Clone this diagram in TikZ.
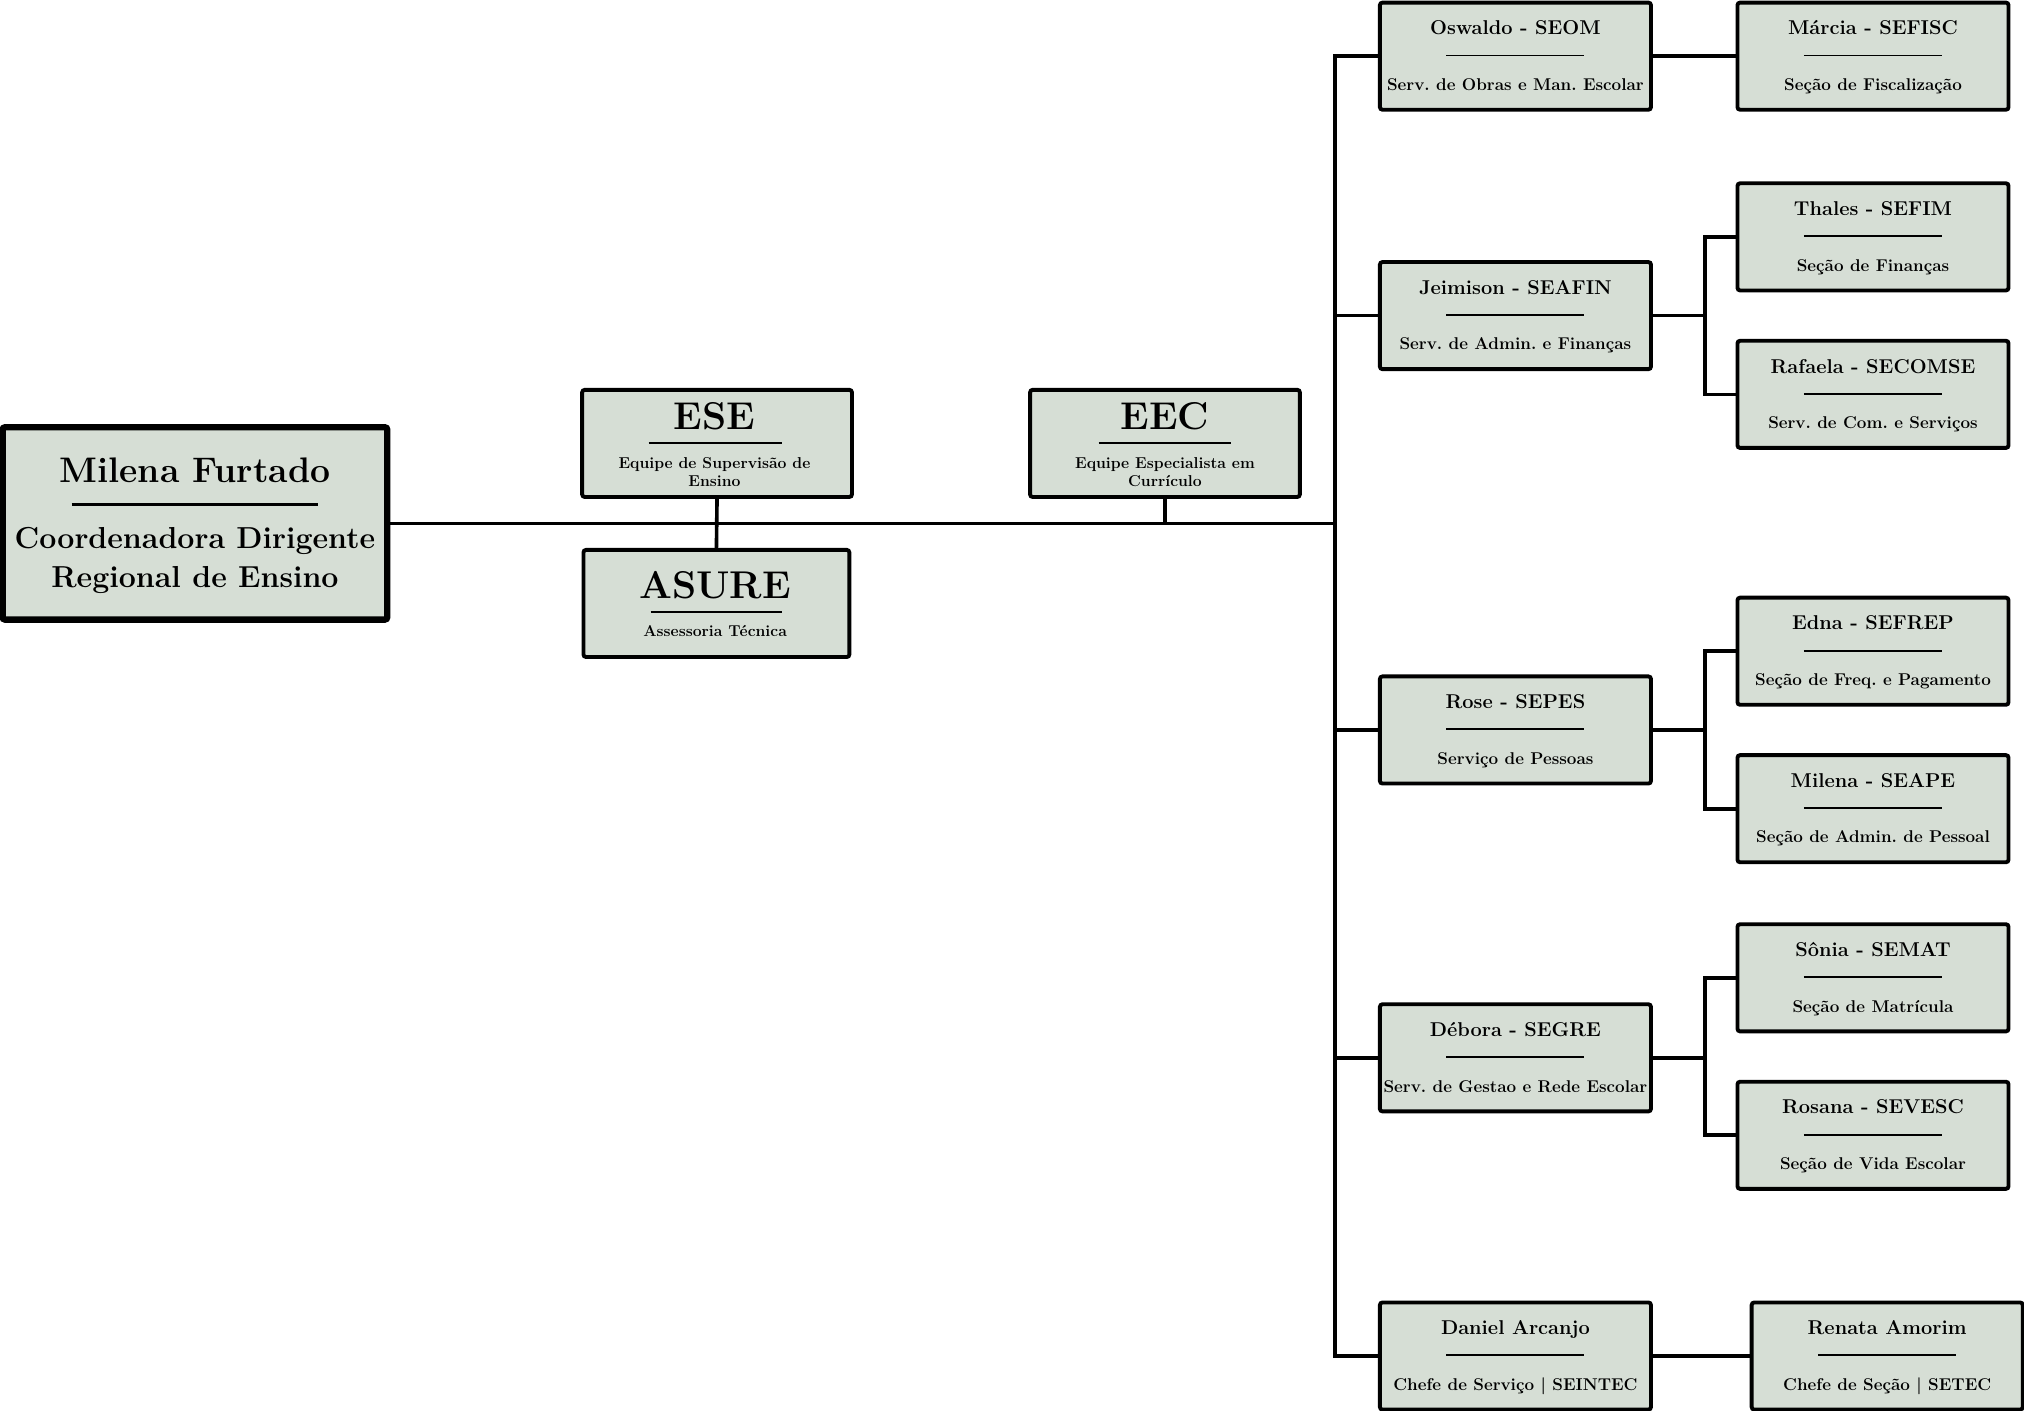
\documentclass[tikz,border=0pt]{standalone}
\usepackage{fontspec}
\usetikzlibrary{calc}
\frenchspacing
\definecolor{boxfill}{RGB}{214,222,213}
\tikzset{
  x=1pt, y=-1pt,
  box/.style={draw=black, line width=3pt, fill=boxfill, rounded corners=2pt, inner sep=0pt, outer sep=0pt, anchor=north west, minimum width=210pt, minimum height=83pt},
  bigbox/.style={box, line width=5pt, minimum width=298pt, minimum height=149pt},
  nm/.style={font=\bfseries\fontsize{15.5}{18}\selectfont, inner sep=0pt, anchor=base},
  sb/.style={font=\bfseries\fontsize{13.2}{15}\selectfont, inner sep=0pt, anchor=base},
  ttl/.style={font=\bfseries\fontsize{30}{34}\selectfont, inner sep=0pt, anchor=base},
  tsb/.style={font=\bfseries\fontsize{12.2}{14}\selectfont, inner sep=0pt, anchor=base},
  sep/.style={line width=1.5pt},
  conn/.style={line width=2.8pt},
}
\newcommand\unitbox[6]{%
  \node[box,#6] (#1) at (#2,#3) {};
  \node[nm] (#1t) at ($(#1.north)+(0,25)$) {#4};
  \draw[sep] ($(#1.north)+(-53.5,41)$) -- ++(107,0);
  \node[sb] (#1s) at ($(#1.north)+(0,68)$) {#5};
}
\begin{document}
\begin{tikzpicture}
\useasboundingbox (0,0) rectangle (1568,1093);
% main box
\node[bigbox] (mil) at (2,331) {};
\node[nm, font=\bfseries\fontsize{27.5}{30}\selectfont] (milt) at ($(mil.north)+(0,43)$) {Milena Furtado};
\draw[line width=2pt] ($(mil.north)+(-95.5,60)$) -- ++(191,0);
\node[nm, font=\bfseries\fontsize{23.5}{27}\selectfont] (mils1) at ($(mil.north)+(0,94)$) {Coordenadora Dirigente};
\node[nm, font=\bfseries\fontsize{23.5}{27}\selectfont] (mils2) at ($(mil.north)+(0,124)$) {Regional de Ensino};
% ESE
\node[box, minimum width=209pt] (ese) at (451,302) {};
\node[ttl] (eset) at ($(ese.north)+(-2,31)$) {ESE};
\draw[sep] ($(ese.north)+(-53,41.5)$) -- ++(103,0);
\node[tsb] (eses1) at ($(ese.north)+(-2,61)$) {Equipe de Supervisão de};
\node[tsb] (eses2) at ($(ese.north)+(-2,75)$) {Ensino};
% EEC
\node[box, minimum width=209pt] (eec) at (798,302) {};
\node[ttl] (eect) at ($(eec.north)+(0,31)$) {EEC};
\draw[sep] ($(eec.north)+(-51.5,41.5)$) -- ++(103,0);
\node[tsb] (eecs1) at ($(eec.north)+(0,61)$) {Equipe Especialista em};
\node[tsb] (eecs2) at ($(eec.north)+(0,75)$) {Currículo};
% ASURE
\node[box, minimum width=206pt] (asu) at (452,426) {};
\node[ttl] (asut) at ($(asu.north)+(-1,38)$) {ASURE};
\draw[sep] ($(asu.north)+(-51,48)$) -- ++(102,0);
\node[tsb] (asus) at ($(asu.north)+(-1,67)$) {Assessoria Técnica};
% level 2
\unitbox{osw}{1069}{2}{Oswaldo - SEOM}{Serv. de Obras e Man. Escolar}{}
\unitbox{jei}{1069}{203}{Jeimison - SEAFIN}{Serv. de Admin. e Finanças}{}
\unitbox{ros}{1069}{524}{Rose - SEPES}{Serviço de Pessoas}{}
\unitbox{deb}{1069}{778}{Débora - SEGRE}{Serv. de Gestao e Rede Escolar}{}
\unitbox{dan}{1069}{1009}{Daniel Arcanjo}{Chefe de Serviço | SEINTEC}{}
% level 3
\unitbox{mar}{1346}{2}{Márcia - SEFISC}{Seção de Fiscalização}{}
\unitbox{tha}{1346}{142}{Thales - SEFIM}{Seção de Finanças}{}
\unitbox{raf}{1346}{264}{Rafaela - SECOMSE}{Serv. de Com. e Serviços}{}
\unitbox{edn}{1346}{463}{Edna - SEFREP}{Seção de Freq. e Pagamento}{}
\unitbox{sea}{1346}{585}{Milena - SEAPE}{Seção de Admin. de Pessoal}{}
\unitbox{son}{1346}{716}{Sônia - SEMAT}{Seção de Matrícula}{}
\unitbox{rsn}{1346}{838}{Rosana - SEVESC}{Seção de Vida Escolar}{}
\unitbox{ren}{1357}{1009}{Renata Amorim}{Chefe de Seção | SETEC}{}
% connectors
\coordinate (tr) at (1034,405);
\coordinate (br) at (1321,0);
\draw[conn] (mil.east) -- (mil.east -| tr);
\draw[conn] (ese.south) -- (asu.north);
\draw[conn] (eec.south) -- (eec.south |- tr);
\draw[conn] (osw.west) -| (tr |- dan.west) -- (dan.west);
\draw[conn] (jei.west) -- (jei.west -| tr);
\draw[conn] (ros.west) -- (ros.west -| tr);
\draw[conn] (deb.west) -- (deb.west -| tr);
\draw[conn] (osw.east) -- (mar.west);
\draw[conn] (dan.east) -- (ren.west);
\draw[conn] (jei.east) -- (jei.east -| br);
\draw[conn] (tha.west) -| (br |- raf.west) -- (raf.west);
\draw[conn] (ros.east) -- (ros.east -| br);
\draw[conn] (edn.west) -| (br |- sea.west) -- (sea.west);
\draw[conn] (deb.east) -- (deb.east -| br);
\draw[conn] (son.west) -| (br |- rsn.west) -- (rsn.west);
\end{tikzpicture}
\end{document}
